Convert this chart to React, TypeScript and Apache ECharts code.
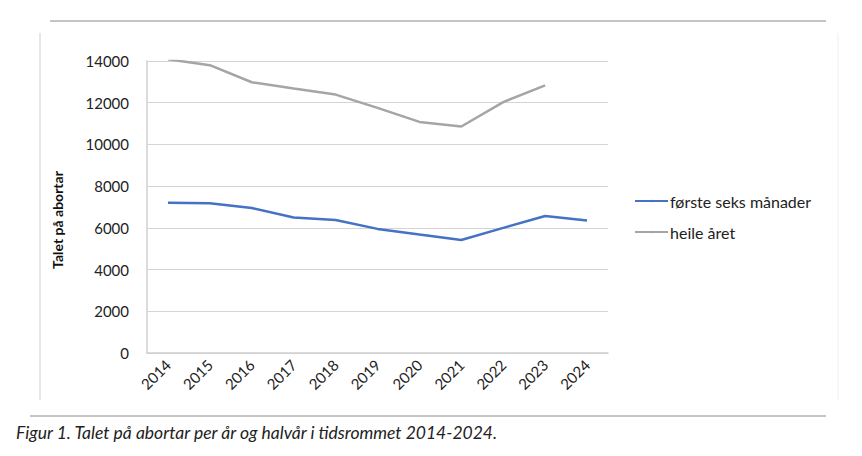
import React, { useEffect, useRef } from "react";
import * as echarts from "echarts";

const years = ["2014", "2015", "2016", "2017", "2018", "2019", "2020", "2021", "2022", "2023", "2024"];
const firstSixMonths = [7200, 7180, 6950, 6500, 6380, 5950, 5680, 5420, 6000, 6570, 6350];
const wholeYear = [14080, 13800, 12980, 12680, 12390, 11750, 11080, 10860, 12030, 12830, null];
const yTicks = { min: 0, max: 14000, interval: 2000 };
const seriesNames = ["første seks månader", "heile året"];
const yTitle = "Talet på abortar";
const caption = "Figur 1. Talet på abortar per år og halvår i tidsrommet 2014-2024.";

export default function App() {
  const ref = useRef<HTMLDivElement>(null);
  useEffect(() => {
    const chart = echarts.init(ref.current!, null, { renderer: "svg" });
    const font = "Lato, 'Open Sans', sans-serif";
    chart.setOption({
      animation: false,
      backgroundColor: "#ffffff",
      textStyle: { fontFamily: font },
      grid: { left: 147, right: 254, top: 61, bottom: 103, containLabel: false },
      legend: {
        orient: "vertical",
        left: 629,
        top: 188,
        itemWidth: 33,
        itemHeight: 3,
        itemGap: 15,
        data: seriesNames,
        textStyle: { fontSize: 16, color: "#222", fontFamily: font, padding: [0, 0, 0, -3] },
      },
      xAxis: {
        type: "category",
        data: years,
        boundaryGap: true,
        axisLine: { show: true, lineStyle: { color: "#d0d0d0", width: 1.5 } },
        axisTick: { show: false },
        axisLabel: { rotate: 45, fontSize: 15, color: "#222", margin: 9, fontFamily: font },
      },
      yAxis: {
        type: "value",
        min: yTicks.min,
        max: yTicks.max,
        interval: yTicks.interval,
        axisLine: { show: true, lineStyle: { color: "#d0d0d0", width: 1.5 } },
        axisTick: { show: false },
        axisLabel: { fontSize: 15, color: "#222", margin: 18, fontFamily: font, formatter: (v: number) => String(v) },
        splitLine: { show: true, lineStyle: { color: "#d4d4d4", width: 1.2 } },
      },
      series: [
        {
          name: seriesNames[0],
          type: "line",
          data: firstSixMonths,
          symbol: "none",
          lineStyle: { color: "#4472c4", width: 2.5 },
          itemStyle: { color: "#4472c4" },
        },
        {
          name: seriesNames[1],
          type: "line",
          data: wholeYear,
          symbol: "none",
          lineStyle: { color: "#a5a5a5", width: 2.5 },
          itemStyle: { color: "#a5a5a5" },
        },
      ],
      graphic: [
        { type: "line", shape: { x1: 50, y1: 21, x2: 826, y2: 21 }, style: { stroke: "#8a8a8a", lineWidth: 1 } },
        { type: "line", shape: { x1: 40, y1: 33, x2: 40, y2: 400 }, style: { stroke: "#cfcfcf", lineWidth: 1 } },
        { type: "line", shape: { x1: 838, y1: 33, x2: 838, y2: 400 }, style: { stroke: "#f0f0f0", lineWidth: 1 } },
        { type: "line", shape: { x1: 30, y1: 416, x2: 826, y2: 416 }, style: { stroke: "#8a8a8a", lineWidth: 1 } },
        {
          type: "text",
          x: 57,
          y: 220,
          rotation: Math.PI / 2,
          style: {
            text: yTitle,
            fontSize: 14,
            fontWeight: "bold",
            fill: "#111",
            fontFamily: font,
            align: "center",
            verticalAlign: "middle",
          },
        },
        {
          type: "text",
          x: 16,
          y: 423,
          style: { text: caption, fontSize: 17.5, fontStyle: "italic", fill: "#222", fontFamily: font },
        },
      ],
    });
    return () => chart.dispose();
  }, []);
  return <div ref={ref} style={{ position: "fixed", left: 0, top: 0, width: 862, height: 456 }} />;
}
